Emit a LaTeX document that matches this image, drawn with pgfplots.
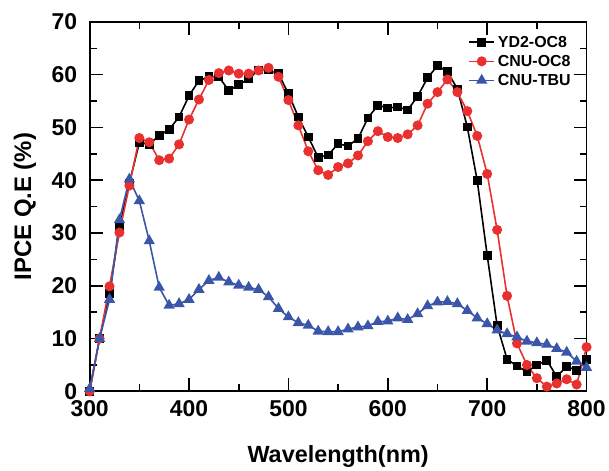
\documentclass[border=0pt]{standalone}
\usepackage{pgfplots}
\pgfplotsset{compat=1.18}
\usepackage{fontspec}
\setmainfont{Liberation Sans}
\definecolor{cred}{RGB}{232,49,47}
\definecolor{cblue}{RGB}{58,86,168}
\begin{document}
\begin{tikzpicture}[x=1pt,y=1pt]
\begin{axis}[
  at={(0,0)}, anchor=south west,
  scale only axis, width=499pt, height=371pt,
  xmin=300, xmax=800, ymin=0, ymax=70,
  xtick={300,400,...,800}, ytick={0,10,...,70},
  minor xtick={350,450,...,750}, minor ytick={5,15,...,65},
  tick align=inside,
  major tick length=13pt, minor tick length=7pt,
  every tick/.style={line width=1.6pt, black},
  axis line style={line width=1.8pt},
  tick label style={font=\fontsize{23}{24}\selectfont\bfseries},
  /pgf/number format/assume math mode=true,
  xticklabel style={yshift=-6pt},
  yticklabel style={xshift=-9pt},
  every axis x label/.style={at={(axis description cs:0.5,-0.175)}, anchor=center},
  every axis y label/.style={at={(axis description cs:-0.13,0.5)}, anchor=center, rotate=90},
  xlabel={\fontsize{23.5}{24}\selectfont\bfseries Wavelength(nm)},
  ylabel={\fontsize{24}{24}\selectfont\bfseries IPCE Q.E (\%)},
  clip=false,
  legend style={draw=none, fill=none, at={(0.762,0.968)}, anchor=north west,
    font=\fontsize{16}{17}\selectfont\bfseries, row sep=2.5pt,
    inner sep=0pt, nodes={inner xsep=3pt}},
  legend cell align=left,
  legend image code/.code={\draw[#1] (0pt,0pt) -- (25pt,0pt); \draw[#1, only marks] plot coordinates {(12.5pt,0pt)};},
]
\addplot[black, line width=1.6pt, mark=square*, mark size=3.6pt] coordinates {
(300,0) (310,10) (320,18.5) (330,31) (340,39.5) (350,47.1) (360,46.8) (370,48.5) (380,49.6) (390,52)
(400,56) (410,58.9) (420,59.6) (430,59.6) (440,57) (450,58.1) (460,59.2) (470,60.9) (480,60.9) (490,60.2)
(500,56.4) (510,52) (520,48.2) (530,44.3) (540,44.8) (550,46.9) (560,46.5) (570,47.9) (580,51.8) (590,54.2)
(600,53.7) (610,53.9) (620,53.3) (630,55.9) (640,59.4) (650,61.7) (660,60.6) (670,57.3) (680,50.1) (690,39.9)
(700,25.8) (710,12.5) (720,6.1) (730,4.8) (740,3.7) (750,5.0) (760,5.9) (770,2.8) (780,4.7) (790,4.0) (800,6)
};
\addlegendentry{YD2-OC8}
\addplot[cred, line width=1.6pt, mark=*, mark size=4.2pt] coordinates {
(300,0) (310,10) (320,19.9) (330,30.1) (340,39) (350,48) (360,47.2) (370,43.8) (380,44.1) (390,46.8)
(400,51.5) (410,55.3) (420,59) (430,60.3) (440,60.8) (450,60.2) (460,60.2) (470,60.8) (480,61.3) (490,59.6)
(500,55.2) (510,50.4) (520,45.5) (530,41.9) (540,41) (550,42.5) (560,43.2) (570,44.7) (580,47.4) (590,49.3)
(600,48.2) (610,48) (620,48.7) (630,50.4) (640,54.5) (650,56.7) (660,59.1) (670,56.7) (680,53.1) (690,48.4)
(700,41.2) (710,30.6) (720,18.1) (730,9.1) (740,5.0) (750,2.5) (760,0.9) (770,1.5) (780,2.3) (790,1.3) (800,8.4)
};
\addlegendentry{CNU-OC8}
\addplot[cblue, line width=1.6pt, mark=triangle*, mark size=5pt] coordinates {
(300,0.5) (310,10) (320,17.4) (330,32.5) (340,40.2) (350,36.1) (360,28.5) (370,19.7) (380,16.3) (390,16.6)
(400,17.4) (410,19.3) (420,21) (430,21.6) (440,20.7) (450,20.1) (460,19.7) (470,19.3) (480,17.9) (490,15.7)
(500,14.1) (510,13) (520,12.5) (530,11.4) (540,11.3) (550,11.3) (560,11.8) (570,12.2) (580,12.4) (590,13.2)
(600,13.3) (610,13.9) (620,13.6) (630,14.7) (640,16.2) (650,16.9) (660,17.0) (670,16.6) (680,15.3) (690,13.9)
(700,12.8) (710,11.6) (720,10.9) (730,10.3) (740,9.5) (750,9.2) (760,8.9) (770,8.1) (780,7.4) (790,5.7) (800,4.5)
};
\addlegendentry{CNU-TBU}
\end{axis}
\useasboundingbox (-90pt,-77pt) rectangle (519pt,393pt);
\end{tikzpicture}
\end{document}
